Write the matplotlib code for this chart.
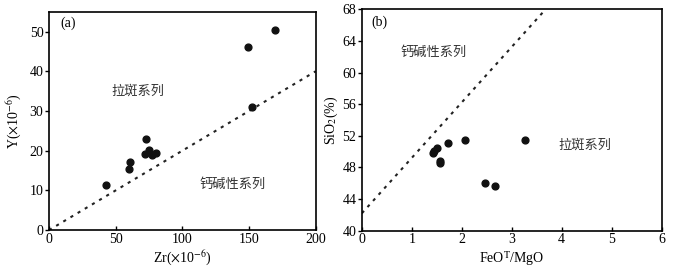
import matplotlib
matplotlib.use('Agg')
import matplotlib.pyplot as plt

plt.rcParams['font.family'] = ['Liberation Serif', 'Noto Sans CJK SC']
plt.rcParams['mathtext.fontset'] = 'stix'

# (a) Zr vs Y
zr = [43, 60, 61, 71.7, 72.7, 74.7, 76.9, 80, 149.4, 152.4, 169.7]
y_ppm = [11.4, 15.4, 17.1, 19.2, 22.9, 20.1, 19.0, 19.5, 46.2, 31.0, 50.4]
line_a_x = [0, 200]
line_a_y = [0, 40]

# (b) FeOT/MgO vs SiO2
feo_mgo = [1.415, 1.45, 1.495, 1.56, 1.56, 1.73, 2.06, 2.47, 2.66, 3.27]
sio2 = [49.8, 50.1, 50.4, 48.6, 48.8, 51.1, 51.5, 46.0, 45.65, 51.5]
line_b_x = [0, 3.68]
line_b_y = [42.2, 68]

cjk = ['Noto Sans CJK SC', 'DejaVu Sans']
txt_color = '#333333'

fig = plt.figure(figsize=(7, 2.72), dpi=100)
ax1 = fig.add_axes([0.070, 0.154, 0.381, 0.803])
ax2 = fig.add_axes([0.517, 0.152, 0.428, 0.814])

for ax in (ax1, ax2):
    for sp in ax.spines.values():
        sp.set_linewidth(1.2)
    ax.tick_params(axis='x', direction='in', length=3, width=1, labelsize=10, pad=2)
    ax.tick_params(axis='y', direction='out', length=3, width=1, labelsize=10, pad=1)

ax1.plot(line_a_x, line_a_y, color='#222222', lw=1.5, ls=(0, (1.5, 2.5)))
ax1.scatter(zr, y_ppm, s=24, color='#111111', zorder=3)
ax1.set_xlim(0, 200)
ax1.set_ylim(0, 55)
ax1.set_xticks([0, 50, 100, 150, 200])
ax1.set_yticks([0, 10, 20, 30, 40, 50])
ax1.set_xlabel(r'Zr($\times$10$^{-6}$)', fontsize=10, labelpad=2)
ax1.set_ylabel(r'Y($\times$10$^{-6}$)', fontsize=10, labelpad=4)
ax1.text(14, 52, '(a)', fontsize=10, ha='center', va='center')
ax1.text(67, 35, '拉斑系列', family=cjk, fontsize=9.5, color=txt_color, ha='center', va='center')
ax1.text(138, 11.4, '钙碱性系列', family=cjk, fontsize=9.5, color=txt_color, ha='center', va='center')

ax2.plot(line_b_x, line_b_y, color='#222222', lw=1.5, ls=(0, (1.5, 2.5)))
ax2.scatter(feo_mgo, sio2, s=24, color='#111111', zorder=3)
ax2.set_xlim(0, 6)
ax2.set_ylim(40, 68)
ax2.set_xticks(range(0, 7))
ax2.set_yticks(range(40, 69, 4))
ax2.set_xlabel(r'FeO$^{\mathrm{T}}$/MgO', fontsize=10, labelpad=2)
ax2.set_ylabel(r'SiO$_2$(%)', fontsize=10, labelpad=2)
ax2.text(0.36, 66.4, '(b)', fontsize=10, ha='center', va='center')
ax2.text(1.43, 62.5, '钙碱性系列', family=cjk, fontsize=9.5, color=txt_color, ha='center', va='center')
ax2.text(4.47, 50.8, '拉斑系列', family=cjk, fontsize=9.5, color=txt_color, ha='center', va='center')

fig.savefig('out.png', dpi=100)
